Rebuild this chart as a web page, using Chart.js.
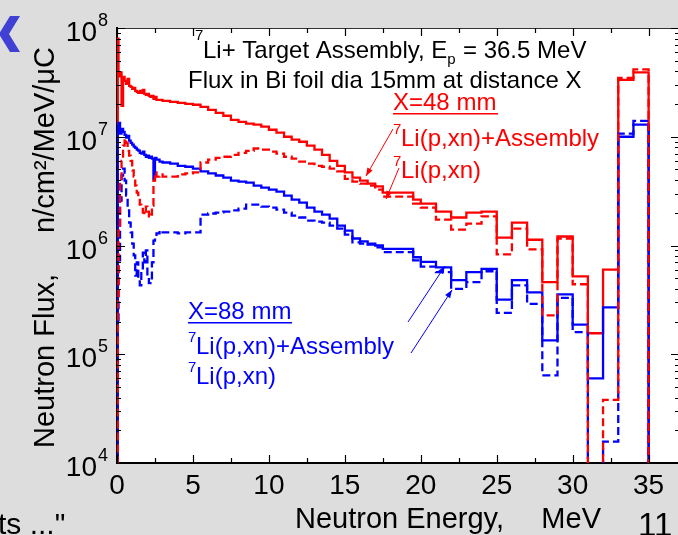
<!DOCTYPE html>
<html>
<head>
<meta charset="utf-8">
<script src="https://cdn.jsdelivr.net/npm/chart.js@4.4.0/dist/chart.umd.min.js"></script>
<style>
  html, body { margin: 0; padding: 0; background: #dddddd; overflow: hidden; }
  canvas { display: block; }
</style>
</head>
<body>
<canvas id="myChart" width="690" height="535"></canvas>
<script>
// bin left edges (MeV); each value holds until the next edge
var energy = [0, 0.05, 0.1, 0.2, 0.3, 0.4, 0.5, 0.6, 0.7, 0.8, 0.9, 1.0, 1.1, 1.2, 1.3, 1.4, 1.5, 1.6, 1.7, 1.8, 1.9,
  2.0, 2.1, 2.2, 2.3, 2.4, 2.5, 2.6, 2.8, 3.0, 3.5, 4.0, 4.5, 5.0, 5.5, 6.0, 6.5, 7.0, 7.5, 8.0, 8.5, 9.0, 9.5,
  10, 10.5, 11, 11.5, 12, 12.5, 13, 13.5, 14, 14.5, 15, 15.5, 16, 16.5, 17, 17.5, 19.5,
  20, 21, 22, 23, 24, 25, 26, 27, 28, 29, 30, 31, 32, 33, 34, 35];

// X=48 mm, 7Li(p,xn)+Assembly
var red48Assembly = [1e3, 8e7, 3.6e7, 3.9e7, 1.92e7, 3.55e7, 3.27e7, 3.06e7, 3.4e7, 2.94e7, 2.87e7, 2.76e7, 2.82e7, 2.64e7, 2.59e7, 2.53e7, 2.64e7, 2.53e7, 2.7e7, 2.48e7, 2.43e7,
  2.48e7, 2.38e7, 2.33e7, 2.38e7, 2.23e7, 2.33e7, 2.18e7, 2.18e7, 2.14e7, 2.09e7, 2.05e7, 2.01e7, 1.97e7, 1.88e7, 1.77e7, 1.66e7, 1.56e7, 1.43e7, 1.37e7, 1.32e7, 1.29e7, 1.24e7,
  1.16e7, 1.09e7, 1.0e7, 9.4e6, 9.0e6, 8.3e6, 7.6e6, 6.8e6, 6.0e6, 5.4e6, 4.7e6, 4.2e6, 3.95e6, 3.7e6, 3.5e6, 3.06e6, 2.64e6,
  2.43e6, 2.05e6, 1.81e6, 2.01e6, 2.05e6, 1.18e6, 1.62e6, 1.13e6, 4.6e5, 1.21e6, 5.2e5, 1.56e5, 6.0e5, 3.33e7, 3.9e7, 1e3];

// X=48 mm, 7Li(p,xn) only
var red48Li = [1e3, 3.1e5, 1.37e6, 3.95e6, 6.0e6, 8.3e6, 9.6e6, 8.8e6, 7.4e6, 6.7e6, 6.0e6, 4.9e6, 4.3e6, 3.55e6, 3.06e6, 2.7e6, 2.38e6, 2.23e6, 2.01e6, 1.92e6, 2.28e6,
  2.05e6, 1.81e6, 1.92e6, 2.33e6, 3.95e6, 4.7e6, 4.3e6, 4.5e6, 4.3e6, 4.3e6, 4.5e6, 4.6e6, 4.7e6, 5.8e6, 6.15e6, 6.4e6, 6.55e6, 6.8e6, 7.1e6, 7.4e6, 7.8e6, 7.6e6,
  7.3e6, 7.0e6, 6.55e6, 6.3e6, 5.9e6, 5.65e6, 5.4e6, 5.3e6, 5.1e6, 4.8e6, 4.1e6, 3.87e6, 3.7e6, 3.55e6, 3.27e6, 2.82e6, 2.43e6,
  2.23e6, 1.73e6, 1.4e6, 1.59e6, 1.85e6, 8.3e5, 1.43e6, 9.2e5, 2.28e5, 1.16e6, 4.4e5, 1e3, 3.8e4, 3.48e7, 4.16e7, 1e3];

// X=88 mm, 7Li(p,xn)+Assembly
var blue88Assembly = [1e3, 1.26e7, 1.34e7, 1.07e7, 1.18e7, 1.11e7, 1.04e7, 9.8e6, 1.02e7, 9.2e6, 8.8e6, 8.45e6, 8.1e6, 7.9e6, 7.6e6, 7.45e6, 7.1e6, 7.0e6, 7.3e6, 6.8e6, 6.55e6,
  6.7e6, 6.4e6, 6.55e6, 6.3e6, 4.1e6, 6.4e6, 6.15e6, 5.9e6, 5.8e6, 5.65e6, 5.4e6, 5.3e6, 5.1e6, 4.8e6, 4.6e6, 4.4e6, 4.2e6, 3.95e6, 3.86e6, 3.78e6, 3.55e6, 3.4e6,
  3.27e6, 3.13e6, 2.88e6, 2.64e6, 2.48e6, 2.23e6, 2.05e6, 1.92e6, 1.77e6, 1.52e6, 1.37e6, 1.16e6, 1.09e6, 1.04e6, 1.0e6, 9.3e5, 7.8e5,
  7.06e5, 6.3e5, 4.8e5, 5.7e5, 6.1e5, 3.18e5, 4.8e5, 3.7e5, 1.34e5, 3.55e5, 1.87e5, 6.0e4, 2.7e5, 1.0e7, 1.29e7, 1e3];

// X=88 mm, 7Li(p,xn) only
var blue88Li = [1e3, 2.05e5, 7.3e5, 2.59e6, 4.4e6, 5.1e6, 3.95e6, 2.88e6, 2.1e6, 1.62e6, 1.32e6, 1.04e6, 8.1e5, 5.3e5, 7.0e5, 4.8e5, 4.3e5, 5.9e5, 8.6e5, 7.0e5, 9.0e5,
  5.3e5, 4.5e5, 5.0e5, 7.0e5, 1.11e6, 1.21e6, 1.29e6, 1.37e6, 1.32e6, 1.32e6, 1.29e6, 1.32e6, 1.32e6, 1.92e6, 1.97e6, 2.01e6, 2.05e6, 2.1e6, 2.18e6, 2.38e6, 2.38e6, 2.28e6,
  2.23e6, 2.14e6, 2.01e6, 1.88e6, 1.81e6, 1.69e6, 1.66e6, 1.62e6, 1.52e6, 1.43e6, 1.26e6, 1.07e6, 1.04e6, 1.02e6, 9.6e5, 8.7e5, 7.3e5,
  6.4e5, 5.7e5, 4.0e5, 4.6e5, 5.8e5, 2.4e5, 4.3e5, 2.9e5, 6.4e4, 3.3e5, 1.6e5, 1e3, 1.57e4, 1.07e7, 1.4e7, 1e3];

var xTicks = [0, 5, 10, 15, 20, 25, 30, 35];
var yDecades = [4, 5, 6, 7, 8];

var FONT = '"Liberation Sans", Arial, sans-serif';
var RED = '#ff0000';
var BLUE = '#0000ff';

function points(vals) {
  return energy.map(function(e, i) { return { x: e, y: vals[i] }; });
}

function arrow(c, x1, y1, x2, y2, color) {
  var a = Math.atan2(y2 - y1, x2 - x1);
  c.strokeStyle = color; c.fillStyle = color; c.lineWidth = 1;
  c.beginPath(); c.moveTo(x1, y1); c.lineTo(x2, y2); c.stroke();
  c.beginPath();
  c.moveTo(x2, y2);
  c.lineTo(x2 - 8 * Math.cos(a) + 3 * Math.sin(a), y2 - 8 * Math.sin(a) - 3 * Math.cos(a));
  c.lineTo(x2 - 8 * Math.cos(a) - 3 * Math.sin(a), y2 - 8 * Math.sin(a) + 3 * Math.cos(a));
  c.closePath(); c.fill();
}

// "7" superscript followed by the label
function isoLabel(c, x, base, text, color) {
  c.fillStyle = color;
  c.textAlign = 'left';
  c.font = '15px ' + FONT;
  c.fillText('7', x, base - 12);
  c.font = '24px ' + FONT;
  c.fillText(text, x + 8, base);
}

var framePlugin = {
  id: 'frame',
  beforeDraw: function(chart) {
    var c = chart.ctx, a = chart.chartArea;
    c.save();
    c.fillStyle = '#dddddd';
    c.fillRect(0, 0, chart.width, chart.height);
    c.fillStyle = '#ffffff';
    c.fillRect(a.left, a.top, a.right - a.left, a.bottom - a.top);
    c.restore();
  },
  afterDraw: function(chart) {
    var c = chart.ctx, a = chart.chartArea;
    var xs = chart.scales.x, ys = chart.scales.y;
    c.save();

    // top frame line
    c.strokeStyle = '#333'; c.lineWidth = 1;
    c.beginPath(); c.moveTo(a.left, a.top + 0.5); c.lineTo(a.right, a.top + 0.5); c.stroke();

    // inward ticks, x
    c.strokeStyle = '#000'; c.lineWidth = 1.2;
    for (var v = 0; v <= 37; v += 2.5) {
      var px = Math.round(xs.getPixelForValue(v)) + 0.5;
      var len = (v % 5 === 0) ? 8 : 5;
      c.beginPath();
      c.moveTo(px, a.bottom); c.lineTo(px, a.bottom - len);
      c.moveTo(px, a.top); c.lineTo(px, a.top + len);
      c.stroke();
    }
    // inward ticks, y (log)
    for (var k = 4; k <= 8; k++) {
      for (var m = 1; m <= 9; m++) {
        if (k === 8 && m > 1) break;
        var py = Math.round(ys.getPixelForValue(m * Math.pow(10, k))) + 0.5;
        var l = (m === 1) ? 8 : 4;
        c.beginPath();
        c.moveTo(a.left, py); c.lineTo(a.left + l, py);
        c.moveTo(a.right, py); c.lineTo(a.right - l, py);
        c.stroke();
      }
    }

    // y tick labels 10^k
    c.fillStyle = '#000';
    yDecades.forEach(function(k) {
      var py = ys.getPixelForValue(Math.pow(10, k));
      c.font = '28px ' + FONT;
      c.textAlign = 'right';
      c.fillText('10', 97, py + 13);
      c.font = '18px ' + FONT;
      c.textAlign = 'left';
      c.fillText(String(k), 98, py - 2);
    });

    // axis titles
    c.font = '29px ' + FONT;
    c.textAlign = 'left';
    c.fillText('Neutron Energy,', 295, 528);
    c.textAlign = 'right';
    c.fillText('MeV', 601, 528);
    c.save();
    c.translate(54, 448);
    c.rotate(-Math.PI / 2);
    c.textAlign = 'left';
    c.fillText('Neutron Flux,', 0, 0);
    c.textAlign = 'right';
    c.fillText('n/cm\u00b2/MeV/\u03bcC', 401, 0);
    c.restore();

    // header text
    c.fillStyle = '#000';
    c.textAlign = 'left';
    c.font = '15px ' + FONT;
    c.fillText('7', 195, 40);
    c.font = '24px ' + FONT;
    var t1 = 'Li+ Target Assembly, E';
    c.fillText(t1, 203, 58);
    var w1 = c.measureText(t1).width;
    c.font = '15px ' + FONT;
    c.fillText('p', 203 + w1, 64);
    c.font = '24px ' + FONT;
    c.fillText(' = 36.5 MeV', 203 + w1 + 9, 58);
    c.fillText('Flux in Bi foil dia 15mm at distance X', 188, 88);

    // red annotations
    c.fillStyle = RED;
    c.font = '24px ' + FONT;
    c.fillText('X=48 mm', 393, 110);
    c.fillRect(393, 113, 105, 1.5);
    isoLabel(c, 393, 146, 'Li(p,xn)+Assembly', RED);
    isoLabel(c, 393, 178, 'Li(p,xn)', RED);
    arrow(c, 393, 129, 366, 176, RED);
    arrow(c, 399, 168, 386, 199, RED);

    // blue annotations
    c.fillStyle = BLUE;
    c.font = '24px ' + FONT;
    c.fillText('X=88 mm', 188, 319);
    c.fillRect(188, 322, 104, 1.5);
    isoLabel(c, 188, 354, 'Li(p,xn)+Assembly', BLUE);
    isoLabel(c, 188, 384, 'Li(p,xn)', BLUE);
    arrow(c, 408, 322, 445, 266, BLUE);
    arrow(c, 411, 353, 452, 290, BLUE);

    // slide leftovers
    c.fillStyle = '#4040d4';
    c.beginPath();
    c.moveTo(10, 16); c.lineTo(20, 16); c.lineTo(9, 34); c.lineTo(20, 52); c.lineTo(10, 52); c.lineTo(-1, 34);
    c.closePath(); c.fill();
    c.fillStyle = '#000';
    c.font = '30px ' + FONT;
    c.textAlign = 'left';
    c.fillText('ts ..."', -2, 534);
    c.font = '33px ' + FONT;
    c.fillText('11', 638, 536);

    c.restore();
  }
};

var ctx = document.getElementById('myChart');
var myChart = new Chart(ctx, {
  type: 'line',
  data: {
    datasets: [{
      label: 'X=48 mm 7Li(p,xn)',
      data: points(red48Li),
      borderColor: RED,
      borderDash: [8, 4],
      order: 0
    }, {
      label: 'X=88 mm 7Li(p,xn)',
      data: points(blue88Li),
      borderColor: BLUE,
      borderDash: [8, 4],
      order: 1
    }, {
      label: 'X=88 mm 7Li(p,xn)+Assembly',
      data: points(blue88Assembly),
      borderColor: BLUE,
      order: 2
    }, {
      label: 'X=48 mm 7Li(p,xn)+Assembly',
      data: points(red48Assembly),
      borderColor: RED,
      order: 3
    }]
  },
  options: {
    responsive: false,
    animation: false,
    devicePixelRatio: 1,
    layout: { padding: { top: 28, right: 11, left: 0, bottom: 0 } },
    elements: {
      point: { radius: 0 },
      line: { borderWidth: 2.3, stepped: true, tension: 0 }
    },
    plugins: {
      legend: { display: false },
      tooltip: { enabled: false }
    },
    scales: {
      x: {
        type: 'linear',
        min: 0,
        max: 37,
        afterBuildTicks: function(s) { s.ticks = xTicks.map(function(v) { return { value: v }; }); },
        afterFit: function(s) { s.height = 72; },
        grid: { display: false, drawTicks: false },
        border: { display: true, color: '#000', width: 2 },
        ticks: {
          color: '#000',
          padding: 6,
          maxRotation: 0,
          autoSkip: false,
          font: { family: FONT, size: 28 }
        }
      },
      y: {
        type: 'logarithmic',
        min: 1e4,
        max: 1e8,
        afterFit: function(s) { s.width = 117; },
        grid: { display: false, drawTicks: false },
        border: { display: true, color: '#000', width: 2 },
        ticks: { display: false }
      }
    }
  },
  plugins: [framePlugin]
});
</script>
</body>
</html>
